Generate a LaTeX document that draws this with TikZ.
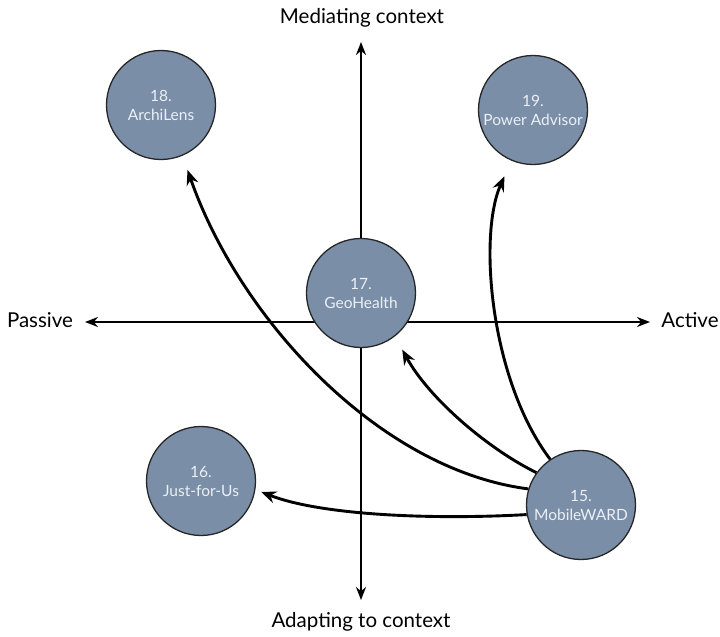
\documentclass[tikz,border=0pt]{standalone}
\usepackage{fontspec}
\setmainfont{Lato}
\usetikzlibrary{arrows.meta}
\definecolor{itemfill}{RGB}{122,142,167}
\definecolor{itemtext}{RGB}{236,240,245}
\begin{document}
\begin{tikzpicture}[x=1pt,y=-1pt,
  item/.style={circle, draw=black!85, line width=1.3pt, fill=itemfill,
    minimum size=109pt, inner sep=0pt, text=itemtext, align=center,
    font=\fontsize{15.5}{19}\selectfont},
  axis/.style={line width=2.2pt, {Stealth[length=13pt,width=10pt]}-{Stealth[length=13pt,width=10pt]}},
  link/.style={line width=2.9pt, -{Stealth[length=15pt,width=12pt]}},
  axislabel/.style={font=\fontsize{20.5}{24}\selectfont, text=black}]
\useasboundingbox (0,0) rectangle (720,637);

% axis end points and labels
\coordinate (top) at (361,42);
\coordinate (bottom) at (361,600);
\coordinate (left) at (85,322);
\coordinate (right) at (650,322);
\node[axislabel] (med) at (362,18) {Mediating context};
\node[axislabel] (adapt) at (361,622) {Adapting to context};
\node[axislabel] (pas) at (40,320) {Passive};
\node[axislabel] (act) at (690,320) {Active};

\draw[axis] (bottom) -- (top);
\draw[axis] (left) -- (right);

% prototypes
\node[item] (n18) at (161,105) {18.\\ArchiLens};
\node[item] (n19) at (533,110) {19.\\Power Advisor};
\node[item] (n17) at (361,293) {17.\\GeoHealth};
\node[item] (n16) at (201,481) {16.\\Just-for-Us};
\node[item] (n15) at (581,505) {15.\\MobileWARD};

% evolution from MobileWARD
\draw[link, shorten >=6pt] (n15.190) .. controls (430,520) and (320,515) .. (n16.-9);
\draw[link, shorten >=15pt] (n15.163) .. controls (380,470) and (240,320) .. (n18.-67);
\draw[link, shorten >=15pt] (n15.144) .. controls (490,450) and (430,400) .. (n17.-52);
\draw[link, shorten >=17pt] (n15.124) .. controls (490,380) and (478,235) .. (n19.-113);
\end{tikzpicture}
\end{document}
